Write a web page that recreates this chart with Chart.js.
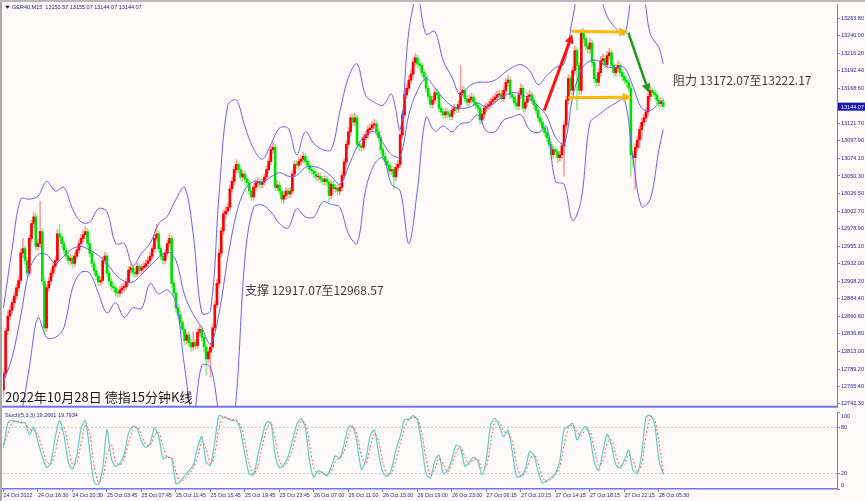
<!DOCTYPE html>
<html><head><meta charset="utf-8">
<script src="https://cdn.jsdelivr.net/npm/chart.js@4/dist/chart.umd.min.js"></script>
<style>
html,body{margin:0;padding:0;background:#fffafa;}
#wrap{position:relative;width:865px;height:501px;overflow:hidden;background:#fffafa;}
#c1{position:absolute;left:0;top:0;}
#c2{position:absolute;left:0;top:411px;}
.fl{position:absolute;left:0;top:0;width:2px;height:501px;background:#a8a8a8;}
.ft{position:absolute;left:0;top:0;width:865px;height:2px;background:#b8b8b8;}
</style></head>
<body><div id="wrap"><canvas id="c1" width="865" height="411"></canvas><canvas id="c2" width="865" height="90"></canvas><div class="fl"></div><div class="ft"></div></div>
<script>
// ===== DATA =====
const symbolLabel = 'GER40,M15';
const timeLabels = ['24 Oct 2022','24 Oct 16:30','24 Oct 20:30','25 Oct 03:45','25 Oct 07:45','25 Oct 11:45','25 Oct 15:45','25 Oct 19:45','25 Oct 23:45','26 Oct 07:00','26 Oct 11:00','26 Oct 15:00','26 Oct 19:00','26 Oct 23:00','27 Oct 06:15','27 Oct 10:15','27 Oct 14:15','27 Oct 18:15','27 Oct 22:15','28 Oct 05:30'];
const priceTicks = [13263.80,13240.00,13216.20,13192.40,13168.60,13121.70,13097.90,13074.10,13050.30,13026.50,13002.70,12978.90,12955.10,12932.00,12908.20,12884.40,12860.60,12836.80,12813.00,12789.20,12765.40,12742.30];
const stochTicks = [100,80,20,0];
const stochLevels = [80,20];

const opens = [
12761,12783,12841,12861,12869,12879,12888,12899,12909,12946,
12952,12936,12919,12966,12986,12995,12955,12959,12975,12908,
12845,12899,12908,12919,12928,12936,12972,12968,12959,12950,
12942,12936,12939,12932,12942,12950,12959,12966,12971,12975,
12959,12946,12932,12922,12915,12907,12909,12936,12942,12919,
12908,12901,12899,12893,12892,12896,12899,12901,12907,12923,
12926,12920,12918,12928,12923,12926,12928,12932,12936,12942,
12952,12966,12972,12952,12942,12936,12946,12959,12966,12905,
12892,12872,12863,12852,12843,12828,12835,12825,12819,12825,
12821,12839,12843,12832,12819,12803,12812,12819,12845,12876,
12905,12946,12976,12999,13003,13008,13033,13043,13059,13066,
13059,13049,13053,13046,13041,13030,13022,13035,13041,13043,
13039,13042,13049,13059,13070,13086,13089,13035,13038,13030,
13019,13024,13030,13026,13030,13053,13066,13065,13070,13073,
13077,13070,13065,13059,13057,13053,13049,13050,13046,13043,
13046,13042,13024,13039,13033,13034,13030,13035,13051,13069,
13093,13110,13129,13123,13129,13093,13091,13089,13102,13106,
13113,13115,13119,13121,13110,13102,13086,13077,13070,13065,
13057,13059,13049,13062,13066,13106,13133,13160,13169,13180,
13188,13204,13210,13202,13200,13190,13184,13169,13158,13147,
13153,13163,13160,13142,13137,13133,13137,13134,13131,13139,
13142,13141,13147,13163,13166,13155,13150,13154,13157,13150,
13146,13142,13126,13134,13142,13145,13147,13151,13154,13157,
13160,13161,13155,13166,13177,13180,13160,13157,13149,13145,
13160,13169,13142,13150,13158,13160,13153,13146,13139,13129,
13123,13115,13109,13102,13093,13079,13086,13083,13075,13079,
13091,13119,13153,13182,13166,13193,13220,13200,13166,13244,
13236,13226,13222,13230,13204,13182,13177,13190,13206,13209,
13201,13213,13217,13200,13190,13196,13200,13190,13185,13180,
13177,13169,13079,13075,13089,13099,13113,13123,13129,13137,
13158,13166,13163,13160,13153,13148,13150.57];

const highs = [
12786,12845,12868,12875,12884,12893,12904,12915,12951,12966,
12956,12940,12970,12990,13001,12999,12965,13016,12979,12912,
12903,12913,12924,12934,12941,12978,12985,12972,12963,12954,
12947,12944,12943,12947,12955,12964,12971,12977,12982,12979,
12963,12950,12936,12926,12919,12914,12941,12947,12946,12923,
12912,12905,12903,12898,12901,12904,12906,12912,12928,12931,
12930,12925,12933,12932,12931,12933,12937,12941,12947,12957,
12971,12985,12976,12956,12946,12951,12964,12972,12970,12909,
12896,12877,12867,12856,12847,12840,12839,12829,12840,12830,
12844,12848,12847,12836,12823,12817,12824,12850,12881,12910,
12951,12981,13004,13009,13014,13038,13048,13064,13072,13070,
13063,13058,13057,13050,13045,13034,13040,13046,13048,13047,
13047,13054,13064,13075,13091,13096,13093,13044,13042,13034,
13029,13035,13034,13035,13058,13071,13071,13075,13078,13083,
13081,13074,13069,13063,13061,13057,13055,13054,13050,13051,
13050,13046,13044,13043,13039,13038,13040,13056,13074,13098,
13116,13134,13134,13135,13133,13097,13095,13107,13111,13118,
13121,13124,13127,13125,13114,13106,13090,13081,13074,13069,
13064,13063,13067,13071,13111,13138,13165,13175,13186,13194,
13210,13216,13214,13207,13204,13194,13188,13173,13162,13158,
13168,13167,13164,13146,13141,13142,13141,13138,13144,13147,
13147,13152,13200,13172,13170,13159,13159,13162,13161,13154,
13150,13146,13139,13147,13150,13152,13156,13159,13162,13165,
13166,13165,13171,13182,13186,13184,13164,13161,13153,13165,
13175,13173,13155,13163,13166,13164,13157,13150,13143,13133,
13127,13119,13113,13106,13097,13091,13090,13087,13084,13096,
13124,13158,13187,13186,13199,13226,13224,13204,13249,13250,
13240,13231,13236,13234,13208,13187,13196,13212,13215,13213,
13219,13223,13221,13204,13201,13206,13204,13194,13189,13184,
13181,13173,13084,13094,13105,13118,13128,13134,13142,13163,
13172,13170,13167,13164,13157,13156,13155.07];

const lows = [
12752,12779,12836,12856,12864,12873,12883,12894,12905,12940,
12931,12914,12915,12961,12980,12950,12950,12954,12903,12836,
12840,12894,12903,12914,12923,12931,12962,12954,12945,12937,
12931,12930,12926,12928,12938,12946,12954,12961,12966,12954,
12941,12927,12917,12910,12902,12902,12905,12931,12914,12903,
12896,12894,12888,12886,12887,12891,12894,12897,12903,12918,
12915,12913,12914,12918,12918,12921,12924,12928,12932,12938,
12948,12962,12947,12937,12931,12932,12942,12955,12900,12887,
12866,12857,12846,12837,12822,12823,12819,12813,12815,12816,
12817,12834,12827,12812,12781,12798,12778,12815,12841,12872,
12900,12941,12971,12993,12998,13004,13028,13038,13054,13054,
13044,13044,13041,13036,13025,13017,13018,13030,13036,13034,
13034,13038,13045,13055,13066,13081,13030,13030,13025,13014,
13014,13019,13021,13021,13026,13049,13060,13060,13065,13068,
13065,13060,13054,13052,13048,13044,13044,13041,13038,13038,
13037,13015,13020,13028,13028,13025,13025,13030,13046,13064,
13088,13105,13118,13118,13088,13085,13084,13085,13097,13101,
13108,13110,13114,13105,13097,13081,13072,13065,13060,13052,
13052,13032,13044,13057,13062,13101,13128,13155,13164,13175,
13183,13199,13197,13195,13185,13179,13164,13153,13142,13142,
13148,13155,13137,13132,13128,13128,13129,13126,13126,13134,
13136,13136,13142,13158,13150,13145,13145,13149,13145,13141,
13137,13121,13121,13129,13137,13140,13142,13146,13149,13152,
13155,13150,13150,13161,13172,13155,13152,13144,13140,13140,
13155,13137,13137,13145,13153,13148,13141,13134,13124,13118,
13110,13104,13097,13088,13073,13074,13078,13068,13070,13074,
13050,13114,13148,13160,13161,13188,13140,13160,13161,13230,
13220,13216,13216,13198,13176,13171,13172,13185,13200,13196,
13196,13208,13195,13185,13185,13191,13185,13180,13175,13171,
13164,13050,13062,13032,13084,13088,13100,13118,13124,13132,
13153,13158,13155,13148,13143,13144,13144.07];

const closes = [
12783,12841,12861,12869,12879,12888,12899,12909,12946,12952,
12936,12919,12966,12986,12995,12955,12959,12975,12908,12845,
12899,12908,12919,12928,12936,12972,12968,12959,12950,12942,
12936,12939,12932,12942,12950,12959,12966,12971,12975,12959,
12946,12932,12922,12915,12907,12909,12936,12942,12919,12908,
12901,12899,12893,12892,12896,12899,12901,12907,12923,12926,
12920,12918,12928,12923,12926,12928,12932,12936,12942,12952,
12966,12972,12952,12942,12936,12946,12959,12966,12905,12892,
12872,12863,12852,12843,12828,12835,12825,12819,12825,12821,
12839,12843,12832,12819,12803,12812,12819,12845,12876,12905,
12946,12976,12999,13003,13008,13033,13043,13059,13066,13059,
13049,13053,13046,13041,13030,13022,13035,13041,13043,13039,
13042,13049,13059,13070,13086,13089,13035,13038,13030,13019,
13024,13030,13026,13030,13053,13066,13065,13070,13073,13077,
13070,13065,13059,13057,13053,13049,13050,13046,13043,13046,
13042,13024,13039,13033,13034,13030,13035,13051,13069,13093,
13110,13129,13123,13129,13093,13091,13089,13102,13106,13113,
13115,13119,13121,13110,13102,13086,13077,13070,13065,13057,
13059,13049,13062,13066,13106,13133,13160,13169,13180,13188,
13204,13210,13202,13200,13190,13184,13169,13158,13147,13153,
13163,13160,13142,13137,13133,13137,13134,13131,13139,13142,
13141,13147,13163,13166,13155,13150,13154,13157,13150,13146,
13142,13126,13134,13142,13145,13147,13151,13154,13157,13160,
13161,13155,13166,13177,13180,13160,13157,13149,13145,13160,
13169,13142,13150,13158,13160,13153,13146,13139,13129,13123,
13115,13109,13102,13093,13079,13086,13083,13075,13079,13091,
13119,13153,13182,13166,13193,13220,13200,13166,13244,13236,
13226,13222,13230,13204,13182,13177,13190,13206,13209,13201,
13213,13217,13200,13190,13196,13200,13190,13185,13180,13177,
13169,13079,13075,13089,13099,13113,13123,13129,13137,13158,
13166,13163,13160,13153,13148,13150.57,13144.07];

// Bollinger bands (20,2), read every 4th bar
const bandStep = 4;
const upperBand = [12872,12952,13019,13019,13023,13043,13030,13035,13006,12988,
12988,13006,13002,12959,12959,12929,12946,12959,12986,12996,
13019,13035,12972,12865,12868,13026,13146,13153,13117,13087,
13073,13093,13115,13115,13079,13110,13094,13086,13086,13137,
13184,13202,13159,13150,13146,13161,13113,13246,13293,13242,
13246,13206,13184,13159,13172,13177,13177,13180,13189,13197,
13201,13193,13174,13186,13197,13202,13264,13313,13320,13300,
13266,13250,13242,13300,13307,13242,13224,13202];
const middleBand = [12772,12805,12861,12923,12944,12944,12932,12942,12952,12955,
12950,12943,12932,12917,12908,12907,12917,12929,12940,12948,
12936,12889,12863,12845,12823,12865,12939,12999,13032,13043,
13042,13049,13055,13050,13051,13062,13063,13059,13050,13039,
13063,13090,13106,13110,13095,13079,13077,13133,13166,13182,
13170,13155,13145,13142,13143,13149,13143,13150,13158,13163,
13161,13154,13145,13131,13103,13093,13157,13194,13206,13206,
13198,13197,13197,13171,13142,13139,13149,13153];
const lowerBand = [12658,12685,12725,12792,12859,12832,12832,12845,12899,12920,
12919,12892,12865,12879,12859,12872,12871,12905,12891,12896,
12879,12792,12725,12794,12792,12725,12658,12752,12939,13008,
13011,13002,12986,12980,13006,12995,12995,13015,13012,13008,
12972,12959,13032,13066,13075,13039,13030,12959,13032,13130,
13111,13118,13110,13121,13123,13133,13111,13110,13126,13130,
13133,13113,13109,13117,13043,13039,12990,13019,13122,13133,
13142,13149,13154,13073,13009,13019,13086,13113];

// Stochastic (5,3,3), read every 2nd bar
const stochStep = 2;
const stochMain = [52.9,85.7,89.3,87.5,85.7,85.7,70.4,80.5,60.7,41.9,
27.9,35.3,67.3,88.8,70.4,36.2,25.7,44.1,79.2,88.8,
49.3,8.6,5.5,26.5,77,39.7,29.2,33.1,45,72.6,
81.4,78.3,61.6,53.7,59.4,79.2,68.2,39.7,41.9,39.7,
6.8,9.9,16.9,23.5,30.9,53.7,68.2,35.3,30.9,61.6,
95.4,93.2,91.4,88.4,89.3,74.8,44.1,19.5,18.6,44.1,
68.2,87.1,85.7,44.1,27.4,31.4,41.9,62.5,83.6,91.4,
79.2,35.3,15.6,23.9,20.8,16.9,28.7,43.2,39.7,58.1,
80.5,81.4,59.4,25.7,37.5,68.2,77,46.3,20.8,16.4,
26.5,50.7,68.2,90.1,90.6,95.4,89.3,57.2,20,14.3,
35.3,44.1,20,24.3,38.8,57.2,52.9,29.6,34.4,41.4,
36.2,18.6,39.7,83.6,91.9,81.4,67.8,76.5,48.5,15.6,
16.9,25.7,48.5,44.1,22.1,7.7,11.2,15.1,20,36.2,
77,81.4,85.3,63.8,74.8,81.4,68.2,35.3,23.9,48.5,
71.3,56.4,31.8,27.4,37.5,50.7,24.3,20,45,93.2,
95.8,84.4,37.5,19.27];
const stochSignal = [58,72,86,88,87,86,78,76,70,52,
36,32,48,74,80,56,32,34,60,84,
72,30,9,14,45,58,36,31,40,60,
77,81,70,58,56,70,74,54,41,41,
22,9,13,20,27,42,62,52,33,46,
80,94,92,90,89,82,60,32,19,30,
56,78,87,65,36,29,37,52,73,88,
86,57,26,20,22,19,23,36,41,49,
70,81,70,43,32,53,72,62,34,19,
21,38,59,79,90,93,92,73,39,17,
25,40,32,22,32,48,55,41,32,38,
39,27,29,62,88,87,75,72,62,32,
16,21,37,46,33,15,9,13,18,28,
57,79,83,74,69,78,75,52,30,36,
60,64,44,30,32,44,38,22,32,69,
94,91,61,19.79];
const stochLabel = 'Stoch(5,3,3) 19.2661 19.7934';

// Annotations (bar index, price)
const arrows = [
  {kind:'up',    from:[250.8,13139], to:[263.8,13242]},
  {kind:'flat',  from:[263.5,13246], to:[289.8,13245]},
  {kind:'flat',  from:[262.0,13156], to:[291.4,13157]},
  {kind:'down',  from:[289.8,13244], to:[299.4,13163]}
];
const notes = [
  {text:'阻力 13172.07至13222.17', bar:310.5, price:13180},
  {text:'支撑 12917.07至12968.57', bar:112, price:12896}
];
const titleText = '2022年10月28日 德指15分钟K线';

// ===== STYLE / LAYOUT =====
const AXIS='#7474e6', TXT='#23239a', BAND='#6464f2';
const UP='#ff0000', DN='#00e000', UPW='#ff9c9c', DNW='#90ee90';
const arrowStyle = {up:{color:'#ff1010',w:3}, flat:{color:'#ffb800',w:3}, down:{color:'#1e9a1e',w:2.5}};
const XMIN=-0.23, XMAX=386.6, YMIN=12738.3, YMAX=13282.5;
const SMALL = '"Liberation Sans", Arial, sans-serif';
const CJK = '"Noto Sans CJK SC", "Noto Sans", sans-serif';
Chart.defaults.font.family = SMALL;

const last = closes.length - 1;
const isUp = closes.map((c,i)=>c>=opens[i]);
const bandPts = arr => arr.map((v,k)=>({x:Math.min(k*bandStep,last), y:v}));
const stochPts = arr => arr.map((v,k)=>({x:Math.min(k*stochStep,last), y:v}));

function drawArrow(ctx,x1,y1,x2,y2,color,w){
  const a=Math.atan2(y2-y1,x2-x1), hl=9, hw=4.5;
  const bx=x2-hl*Math.cos(a), by=y2-hl*Math.sin(a);
  ctx.strokeStyle=color; ctx.lineWidth=w; ctx.lineCap='butt';
  ctx.beginPath(); ctx.moveTo(x1,y1); ctx.lineTo(bx,by); ctx.stroke();
  ctx.fillStyle=color; ctx.beginPath(); ctx.moveTo(x2,y2);
  ctx.lineTo(bx-hw*Math.sin(a), by+hw*Math.cos(a));
  ctx.lineTo(bx+hw*Math.sin(a), by-hw*Math.cos(a)); ctx.closePath(); ctx.fill();
}

const mainOverlay = {id:'mainOverlay', afterDraw(chart){
  const {ctx, chartArea:a, scales:{x,y}} = chart;
  ctx.save();
  ctx.fillStyle=AXIS; ctx.fillRect(0, a.bottom-1, a.right+1, 2);
  arrows.forEach(ar=>{const s=arrowStyle[ar.kind];
    drawArrow(ctx, x.getPixelForValue(ar.from[0]), y.getPixelForValue(ar.from[1]), x.getPixelForValue(ar.to[0]), y.getPixelForValue(ar.to[1]), s.color, s.w);});
  ctx.textBaseline='middle'; ctx.textAlign='left';
  ctx.font='12px '+CJK; ctx.fillStyle='#3c3c3c';
  notes.forEach(n=>ctx.fillText(n.text, x.getPixelForValue(n.bar), y.getPixelForValue(n.price)));
  ctx.font='13px '+CJK; ctx.fillStyle='#1c1c1c';
  ctx.fillText(titleText, a.left+2, a.bottom-10);
  // header
  ctx.fillStyle='#1a1a90';
  ctx.beginPath(); ctx.moveTo(a.left+2,a.top+1.5); ctx.lineTo(a.left+7,a.top+1.5); ctx.lineTo(a.left+4.5,a.top+4.5); ctx.closePath(); ctx.fill();
  ctx.font='5.5px '+SMALL;
  ctx.fillText(symbolLabel+'  '+[opens[last],highs[last],lows[last],closes[last]].map(v=>v.toFixed(2)).join(' '), a.left+9, a.top+3);
  // current price marker
  const py=y.getPixelForValue(closes[last]);
  ctx.fillStyle='#1616b4'; ctx.fillRect(a.right+1, py-4, 27, 8);
  ctx.fillStyle='#ffffff'; ctx.fillText(closes[last].toFixed(2), a.right+4, py+0.5);
  ctx.restore();
}};

new Chart(document.getElementById('c1'), {
  type:'bar',
  data:{datasets:[
    {type:'line', data:bandPts(upperBand), borderColor:BAND, borderWidth:1, pointRadius:0, tension:0.35, order:0},
    {type:'line', data:bandPts(middleBand), borderColor:BAND, borderWidth:1, pointRadius:0, tension:0.35, order:0},
    {type:'line', data:bandPts(lowerBand), borderColor:BAND, borderWidth:1, pointRadius:0, tension:0.35, order:0},
    {type:'bar', data:opens.map((o,i)=>({x:i,y:[o,closes[i]]})), backgroundColor:isUp.map(u=>u?UP:DN), barThickness:2, grouped:false, borderWidth:0, minBarLength:1, order:1},
    {type:'bar', data:lows.map((l,i)=>({x:i,y:[l,highs[i]]})), backgroundColor:isUp.map(u=>u?UPW:DNW), barThickness:1, grouped:false, borderWidth:0, order:2}
  ]},
  options:{
    responsive:false, animation:false, devicePixelRatio:1,
    layout:{padding:{left:3,top:3,right:0,bottom:1}},
    plugins:{legend:{display:false}, tooltip:{enabled:false}},
    scales:{
      x:{type:'linear', min:XMIN, max:XMAX, display:false, offset:false, grid:{offset:false}},
      y:{position:'right', min:YMIN, max:YMAX,
         afterFit(s){s.width=28;},
         afterBuildTicks(s){s.ticks=priceTicks.map(v=>({value:v}));},
         ticks:{callback:v=>v.toFixed(2), font:{size:5.5}, color:TXT, padding:1, autoSkip:false},
         grid:{drawOnChartArea:false, tickLength:3, color:AXIS},
         border:{color:AXIS, width:1}}
    }
  },
  plugins:[mainOverlay]
});

const stochOverlay = {id:'stochOverlay', afterDraw(chart){
  const {ctx, chartArea:a, scales:{y}} = chart;
  ctx.save();
  ctx.font='5.5px '+SMALL; ctx.fillStyle=TXT; ctx.textBaseline='middle'; ctx.textAlign='left';
  stochTicks.forEach(v=>{
    let py=y.getPixelForValue(v);
    if(v===100) py+=4; if(v===0) py-=4;
    ctx.fillText(String(v), a.right+4, py);
  });
  ctx.fillText(stochLabel, a.left+2, a.top+3.5);
  ctx.restore();
}};

new Chart(document.getElementById('c2'), {
  type:'line',
  data:{datasets:[
    {data:stochPts(stochMain), borderColor:'#5ccdc6', borderWidth:1.2, pointRadius:0, tension:0.25, order:1},
    {data:stochPts(stochSignal), borderColor:'#ff5858', borderWidth:1, borderDash:[2,2], pointRadius:0, tension:0.25, order:0},
    ...stochLevels.map(v=>({data:[{x:XMIN,y:v},{x:XMAX,y:v}], borderColor:'#c4c4c4', borderWidth:1, borderDash:[2,2], pointRadius:0, order:2}))
  ]},
  options:{
    responsive:false, animation:false, devicePixelRatio:1,
    layout:{padding:{left:3,top:1,right:0,bottom:2}},
    plugins:{legend:{display:false}, tooltip:{enabled:false}},
    scales:{
      x:{type:'linear', min:XMIN, max:XMAX, offset:false,
         afterFit(s){s.height=10;},
         afterBuildTicks(s){s.ticks=timeLabels.map((_,k)=>({value:k*16}));},
         ticks:{callback:(v,i)=>timeLabels[i], align:'start', autoSkip:false, maxRotation:0, minRotation:0, font:{size:5.3}, color:TXT, padding:0},
         grid:{drawOnChartArea:false, tickLength:3, color:AXIS},
         border:{color:AXIS, width:1.5}},
      y:{position:'right', min:0, max:100,
         afterFit(s){s.width=28;},
         afterBuildTicks(s){s.ticks=stochTicks.map(v=>({value:v}));},
         ticks:{display:false},
         grid:{drawOnChartArea:false, tickLength:3, color:AXIS},
         border:{color:AXIS, width:1}}
    }
  },
  plugins:[stochOverlay]
});
</script>
</body></html>
